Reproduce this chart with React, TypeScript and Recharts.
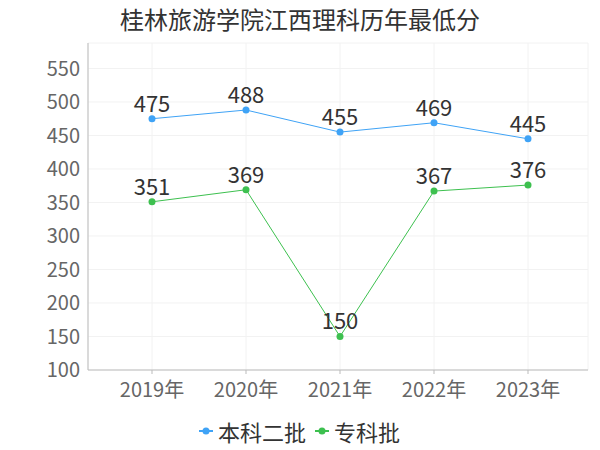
import {
  LineChart,
  Line,
  XAxis,
  YAxis,
  CartesianGrid,
  Legend,
  LabelList,
} from "recharts";

// ----- Data -----
const years = ["2019年", "2020年", "2021年", "2022年", "2023年"];
const benkeErpi = [475, 488, 455, 469, 445];
const zhuankePi = [351, 369, 150, 367, 376];
const yTicks = [100, 150, 200, 250, 300, 350, 400, 450, 500, 550];

const data = years.map((year, i) => ({
  year,
  本科二批: benkeErpi[i],
  专科批: zhuankePi[i],
}));

const BLUE = "#3FA3F6";
const GREEN = "#3DC04F";
const FONT = '"Noto Sans CJK SC", "Noto Sans", sans-serif';

// ----- Legend -----
function LegendContent() {
  const items = [
    { name: "本科二批", color: BLUE },
    { name: "专科批", color: GREEN },
  ];
  return (
    <div
      style={{
        display: "flex",
        justifyContent: "center",
        gap: 9,
        fontFamily: FONT,
        fontSize: 22,
        color: "#333",
        lineHeight: "26px",
        paddingTop: 6,
        paddingLeft: 11,
      }}
    >
      {items.map((it) => (
        <div key={it.name} style={{ display: "flex", alignItems: "center" }}>
          <svg width={14} height={10} style={{ marginRight: 5 }}>
            <line x1={0} y1={5} x2={14} y2={5} stroke={it.color} strokeWidth={2} />
            <circle cx={7} cy={5} r={3.5} fill={it.color} />
          </svg>
          <span>{it.name}</span>
        </div>
      ))}
    </div>
  );
}

export default function App() {
  return (
    <div style={{ position: "absolute", left: 0, top: 0, width: 600, height: 450, background: "#fff" }}>
      <div
        style={{
          position: "absolute",
          top: 4,
          width: 600,
          textAlign: "center",
          fontFamily: FONT,
          fontSize: 24,
          lineHeight: "30px",
          color: "#333",
        }}
      >
        桂林旅游学院江西理科历年最低分
      </div>
      <LineChart
        width={600}
        height={450}
        data={data}
        margin={{ top: 43, right: 12, left: 0, bottom: 2 }}
      >
        <CartesianGrid stroke="#f2f2f2" />
        <XAxis
          dataKey="year"
          padding={{ left: 64, right: 60 }}
          stroke="#bbb"
          tickSize={4}
          tickMargin={9}
          tick={{ fill: "#666", fontSize: 20, fontFamily: FONT }}
          height={42}
        />
        <YAxis
          domain={[100, 588]}
          ticks={yTicks}
          width={88}
          stroke="#bbb"
          tickLine={false}
          interval={0}
          tick={{ fill: "#666", fontSize: 20, fontFamily: FONT }}
        />
        <Legend verticalAlign="bottom" height={36} content={<LegendContent />} />
        <Line
          type="linear"
          dataKey="本科二批"
          stroke={BLUE}
          strokeWidth={1}
          dot={{ r: 3.5, fill: BLUE, stroke: BLUE, strokeWidth: 0 }}
          isAnimationActive={false}
        >
          <LabelList dataKey="本科二批" position="top" offset={7} fill="#333" fontSize={22} fontFamily={FONT} />
        </Line>
        <Line
          type="linear"
          dataKey="专科批"
          stroke={GREEN}
          strokeWidth={1}
          dot={{ r: 3.5, fill: GREEN, stroke: GREEN, strokeWidth: 0 }}
          isAnimationActive={false}
        >
          <LabelList dataKey="专科批" position="top" offset={7} fill="#333" fontSize={22} fontFamily={FONT} />
        </Line>
      </LineChart>
    </div>
  );
}
